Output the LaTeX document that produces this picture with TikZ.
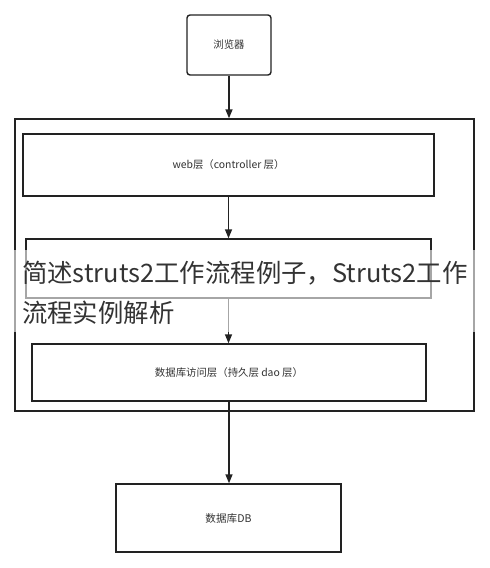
\documentclass[tikz,border=0pt]{standalone}
\usepackage{fontspec}
\setmainfont{Noto Sans CJK SC}
\usetikzlibrary{arrows.meta}
\definecolor{ink}{HTML}{222222}
\definecolor{txt}{HTML}{333333}
\tikzset{
  box/.style={draw=ink, line width=1.4pt, rectangle, inner sep=0pt, text=txt, font=\fontsize{10.4}{12}\selectfont},
  flow/.style={draw=ink, line width=1.4pt, -{Triangle[length=9pt,width=7pt]}},
  title/.style={anchor=west, inner sep=0pt, text=txt, font=\fontsize{25.4}{30}\selectfont},
}
\begin{document}
\begin{tikzpicture}[x=1pt,y=-1pt]
\useasboundingbox (0,0) rectangle (490,568);
\fill[white] (0,0) rectangle (490,568);
\node[box, rounded corners=3pt, minimum width=84pt, minimum height=60pt] (browser) at (229,45) {浏览器};
\node[box, minimum width=459pt, minimum height=292pt] (outer) at (244.5,265) {};
\node[box, minimum width=411pt, minimum height=62pt] (web) at (228.5,165) {web层（controller 层）};
\node[box, minimum width=405pt, minimum height=59pt] (mid) at (228.5,268.5) {};
\node[box, minimum width=394pt, minimum height=57pt] (dao) at (229,372.5) {数据库访问层（持久层 dao 层）};
\node[box, minimum width=225pt, minimum height=68pt, font=\fontsize{10.6}{12}\selectfont] (db) at (228.5,518) {数据库DB};
\draw[flow] (browser.south) -- (browser.south |- outer.north);
\draw[flow] (web.south) -- (web.south |- mid.north);
\draw[flow] (mid.south) -- (mid.south |- dao.north);
\draw[flow] (dao.south) -- (dao.south |- db.north);
% overlay band with title
\fill[white, opacity=0.6] (0,250) rectangle (490,332);
\node[title] (t1) at (22,273) {简述struts2工作流程例子，Struts2工作};
\node[title] (t2) at (22,313) {流程实例解析};
\end{tikzpicture}
\end{document}
